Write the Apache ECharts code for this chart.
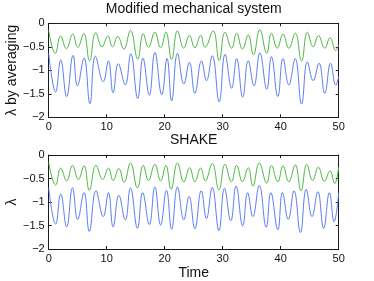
<!DOCTYPE html>
<html>
<head>
<meta charset="utf-8">
<script src="https://cdn.jsdelivr.net/npm/echarts@6/dist/echarts.min.js"></script>
<style>html,body{margin:0;padding:0;background:#fff}#c{width:374px;height:281px}</style>
</head>
<body>
<div id="c"></div>
<script>
const titleTop = 'Modified mechanical system';
const titleBottom = 'SHAKE';
const yNameTop = 'λ by averaging';
const yNameBottom = 'λ';
const xNameBottom = 'Time';
const xTicks = [0, 10, 20, 30, 40, 50];
const yTicks = [0, -0.5, -1, -1.5, -2];

// Top panel, green (time, value at each peak/trough)
const topGreenT = [0,1.15,2.05,3.05,4.15,5.0,6.05,7.05,8.1,9.2,10.2,11.0,11.9,12.95,14.1,15.35,16.3,17.2,18.3,19.3,20.2,21.2,22.2,23.3,24.25,25.2,26.2,26.95,28.35,29.4,30.4,31.55,32.4,33.4,34.4,35.3,36.4,37.6,38.4,39.4,40.4,41.4,42.5,43.6,44.6,45.6,46.5,47.6,48.5,49.5,50];
const topGreenV = [-0.15,-0.64,-0.27,-0.54,-0.23,-0.51,-0.22,-0.80,-0.20,-0.50,-0.27,-0.50,-0.28,-0.55,-0.15,-0.76,-0.22,-0.51,-0.19,-0.52,-0.19,-0.77,-0.16,-0.53,-0.26,-0.52,-0.26,-0.51,-0.16,-0.79,-0.19,-0.53,-0.21,-0.55,-0.25,-0.67,-0.14,-0.64,-0.21,-0.53,-0.23,-0.53,-0.21,-0.80,-0.19,-0.50,-0.26,-0.53,-0.31,-0.58,-0.45];
// Top panel, blue
const topBlueT = [0,1.2,2.07,3.1,4.2,4.95,6.1,7.1,8.05,9.4,10.3,11.1,12.0,13.2,14.15,15.35,16.25,17.35,18.3,19.5,20.4,21.2,22.2,23.3,24.25,25.2,26.35,27.2,28.2,29.4,30.4,31.55,32.4,33.45,34.4,35.4,36.4,37.6,38.4,39.5,40.4,41.4,42.5,43.6,44.6,45.6,46.6,47.6,48.6,49.5,50];
const topBlueV = [-0.64,-1.46,-0.78,-1.56,-0.68,-1.33,-0.74,-1.71,-0.70,-1.24,-0.80,-1.48,-0.86,-1.31,-0.65,-1.60,-0.74,-1.53,-0.62,-1.52,-0.75,-1.65,-0.64,-1.29,-0.83,-1.49,-0.80,-1.22,-0.69,-1.67,-0.66,-1.38,-0.75,-1.57,-0.80,-1.33,-0.63,-1.40,-0.71,-1.56,-0.75,-1.31,-0.75,-1.72,-0.82,-1.22,-0.85,-1.49,-0.85,-1.32,-1.13];
// Bottom panel, green
const botGreenT = [0,1.2,2.07,3.1,4.1,5.1,6.1,7.0,8.15,9.3,10.3,11.1,12.1,13.0,14.1,15.3,16.3,17.2,18.3,19.3,20.2,21.1,22.2,23.3,24.3,25.2,26.2,27.0,28.2,29.35,30.4,31.5,32.4,33.4,34.4,35.2,36.3,37.6,38.4,39.5,40.4,41.4,42.5,43.5,44.5,45.5,46.5,47.5,48.5,49.3,50];
const botGreenV = [-0.16,-0.64,-0.28,-0.55,-0.22,-0.52,-0.23,-0.75,-0.22,-0.52,-0.28,-0.54,-0.29,-0.58,-0.17,-0.70,-0.22,-0.54,-0.20,-0.55,-0.22,-0.73,-0.17,-0.57,-0.27,-0.57,-0.28,-0.55,-0.18,-0.74,-0.20,-0.57,-0.22,-0.57,-0.27,-0.66,-0.17,-0.60,-0.22,-0.57,-0.23,-0.57,-0.21,-0.76,-0.20,-0.54,-0.26,-0.56,-0.34,-0.61,-0.25];
// Bottom panel, blue
const botBlueT = [0,1.2,2.07,3.1,4.1,5.0,6.1,7.0,8.15,9.4,10.3,11.1,12.1,13.2,14.1,15.3,16.2,17.35,18.3,19.3,20.3,21.2,22.2,23.3,24.2,25.2,26.3,27.2,28.2,29.35,30.3,31.4,32.3,33.45,34.3,35.2,36.3,37.5,38.3,39.5,40.3,41.3,42.3,43.4,44.4,45.4,46.4,47.4,48.4,49.2,50];
const botBlueV = [-0.70,-1.47,-0.83,-1.53,-0.70,-1.37,-0.80,-1.63,-0.76,-1.31,-0.80,-1.53,-0.86,-1.38,-0.70,-1.56,-0.80,-1.48,-0.68,-1.49,-0.75,-1.58,-0.68,-1.38,-0.88,-1.57,-0.76,-1.35,-0.69,-1.61,-0.71,-1.40,-0.66,-1.51,-0.80,-1.31,-0.65,-1.54,-0.80,-1.59,-0.80,-1.37,-0.76,-1.65,-0.73,-1.31,-0.78,-1.56,-0.80,-1.42,-0.80];

const GREEN = '#4cb843';
const BLUE = '#5c7cf5';
const FONT = 'Liberation Sans, Arial, sans-serif';
const zip = (t, v) => t.map((x, i) => [x, v[i]]);
const fmtY = v => (v < 0 ? '\u2212' + String(-v) : String(v));

const G = [
  {left: 48.7, top: 23.3, width: 290, height: 94, outerBoundsMode: 'none', containLabel: false},
  {left: 48.7, top: 155, width: 290, height: 94, outerBoundsMode: 'none', containLabel: false}
];

function xAx(grid, pos, showLabel, name) {
  return {
    type: 'value', gridIndex: grid, position: pos, min: xTicks[0], max: xTicks[xTicks.length - 1], interval: 10,
    axisLine: {show: true, onZero: false, lineStyle: {color: '#1a1a1a', width: 1}},
    axisTick: {show: true, inside: true, length: 3, lineStyle: {color: '#1a1a1a'}},
    axisLabel: {show: showLabel, fontSize: 11, color: '#111', fontFamily: FONT, margin: 4},
    splitLine: {show: false},
    name: name || '', nameLocation: 'middle', nameGap: 17, nameMoveOverlap: false,
    nameTextStyle: {fontSize: 14, color: '#111', fontFamily: FONT}
  };
}
function yAx(grid, pos, showLabel, name) {
  return {
    type: 'value', gridIndex: grid, position: pos, min: -2, max: 0, interval: 0.5,
    axisLine: {show: true, onZero: false, lineStyle: {color: '#1a1a1a', width: 1}},
    axisTick: {show: true, inside: true, length: 3, lineStyle: {color: '#1a1a1a'}},
    axisLabel: {show: showLabel, fontSize: 11, color: '#111', fontFamily: FONT, margin: 4, formatter: fmtY},
    splitLine: {show: false},
    name: name || '', nameLocation: 'middle', nameGap: 30, nameRotate: 90, nameMoveOverlap: false,
    nameTextStyle: {fontSize: 14, color: '#111', fontFamily: FONT}
  };
}

const chart = echarts.init(document.getElementById('c'), null, {renderer: 'canvas'});
chart.setOption({
  animation: false,
  backgroundColor: '#fff',
  grid: G,
  graphic: [
    {type: 'text', style: {text: titleTop, x: 193.7, y: 9, textAlign: 'center', textVerticalAlign: 'middle', font: '14px ' + FONT, fill: '#111'}},
    {type: 'text', style: {text: titleBottom, x: 193.7, y: 140, textAlign: 'center', textVerticalAlign: 'middle', font: '14px ' + FONT, fill: '#111'}}
  ],
  xAxis: [xAx(0, 'bottom', true), xAx(0, 'top', false), xAx(1, 'bottom', true, xNameBottom), xAx(1, 'top', false)],
  yAxis: [yAx(0, 'left', true, yNameTop), yAx(0, 'right', false), yAx(1, 'left', true, yNameBottom), yAx(1, 'right', false)],
  series: [
    {type: 'line', xAxisIndex: 0, yAxisIndex: 0, data: zip(topGreenT, topGreenV), showSymbol: false, smooth: 0.45, lineStyle: {color: GREEN, width: 1}, itemStyle: {color: GREEN}},
    {type: 'line', xAxisIndex: 0, yAxisIndex: 0, data: zip(topBlueT, topBlueV), showSymbol: false, smooth: 0.45, lineStyle: {color: BLUE, width: 1}, itemStyle: {color: BLUE}},
    {type: 'line', xAxisIndex: 2, yAxisIndex: 2, data: zip(botGreenT, botGreenV), showSymbol: false, smooth: 0.45, lineStyle: {color: GREEN, width: 1}, itemStyle: {color: GREEN}},
    {type: 'line', xAxisIndex: 2, yAxisIndex: 2, data: zip(botBlueT, botBlueV), showSymbol: false, smooth: 0.45, lineStyle: {color: BLUE, width: 1}, itemStyle: {color: BLUE}}
  ]
});
</script>
</body>
</html>
